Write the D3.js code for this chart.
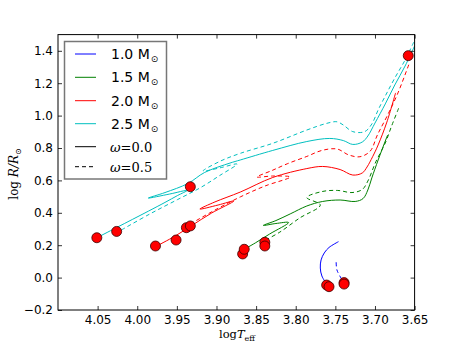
<!DOCTYPE html>
<html>
<head>
<meta charset="utf-8">
<script src="https://cdn.jsdelivr.net/npm/d3@7"></script>
<style>
body{margin:0;background:#fff}
</style>
</head>
<body>
<svg id="chart" width="461" height="346"></svg>
<script>
// tracks: [log Teff, log R/Rsun]
let m10_w00 = [[3.761,-0.040],[3.767,0.010],[3.769,0.059],[3.768,0.109],[3.764,0.152],[3.758,0.186],[3.746,0.222]];
let m10_w05 = [[3.742,-0.009],[3.748,0.047],[3.749,0.102]];

let m15_w00 = [[3.865,0.175],[3.851,0.214],[3.833,0.269],[3.809,0.340],[3.825,0.334],[3.841,0.322],[3.825,0.352],[3.807,0.393],[3.786,0.442],[3.766,0.470],[3.744,0.479],[3.725,0.470],[3.715,0.488],[3.709,0.541],[3.704,0.615],[3.696,0.726],[3.687,0.843],[3.684,0.880]];
let m15_w05 = [[3.838,0.232],[3.820,0.281],[3.795,0.368],[3.769,0.448],[3.786,0.494],[3.767,0.531],[3.747,0.538],[3.729,0.525],[3.716,0.544],[3.709,0.596],[3.699,0.714],[3.687,0.831],[3.679,0.936],[3.670,1.047]];

let m20_w00 = [[3.977,0.191],[3.952,0.257],[3.932,0.319],[3.906,0.399],[3.878,0.473],[3.898,0.448],[3.921,0.423],[3.902,0.467],[3.870,0.528],[3.829,0.618],[3.786,0.673],[3.766,0.686],[3.744,0.667],[3.728,0.633],[3.716,0.646],[3.710,0.683],[3.703,0.746],[3.696,0.819],[3.685,0.960],[3.674,1.140]];
let m20_w05 = [[3.933,0.331],[3.902,0.417],[3.870,0.498],[3.839,0.565],[3.807,0.621],[3.829,0.627],[3.849,0.621],[3.830,0.661],[3.810,0.704],[3.786,0.748],[3.767,0.785],[3.748,0.794],[3.733,0.757],[3.719,0.746],[3.706,0.781],[3.697,0.880],[3.684,1.004],[3.671,1.140],[3.657,1.319]];

let m25_w00 = [[4.051,0.246],[4.026,0.309],[3.986,0.410],[3.965,0.464],[3.949,0.507],[3.937,0.538],[3.959,0.516],[3.986,0.491],[3.965,0.525],[3.936,0.581],[3.915,0.649],[3.883,0.707],[3.870,0.726],[3.829,0.785],[3.786,0.840],[3.757,0.859],[3.740,0.846],[3.728,0.822],[3.716,0.837],[3.709,0.874],[3.700,0.954],[3.687,1.072],[3.675,1.189],[3.662,1.306],[3.650,1.430]];
let m25_w05 = [[4.020,0.294],[3.984,0.393],[3.949,0.482],[3.921,0.553],[3.896,0.630],[3.874,0.701],[3.896,0.677],[3.917,0.658],[3.896,0.717],[3.870,0.767],[3.829,0.829],[3.786,0.911],[3.761,0.952],[3.748,0.962],[3.740,0.942],[3.728,0.901],[3.713,0.901],[3.704,0.948],[3.696,1.035],[3.687,1.121],[3.675,1.232],[3.662,1.343],[3.651,1.454]];

// red dots
let dots = [[4.051,0.246],[4.026,0.285],[3.933,0.561],
            [3.977,0.195],[3.951,0.232],[3.938,0.308],[3.933,0.319],
            [3.867,0.146],[3.865,0.175],[3.839,0.218],[3.839,0.195],
            [3.761,-0.046],[3.758,-0.056],[3.739,-0.031],[3.739,-0.040],
            [3.658,1.370]];

let massNames = ["1.0", "1.5", "2.0", "2.5"];
let omegaNames = ["0.0", "0.5"];
let xTicks = [4.05, 4.00, 3.95, 3.90, 3.85, 3.80, 3.75, 3.70, 3.65];
let yTicks = [-0.2, 0.0, 0.2, 0.4, 0.6, 0.8, 1.0, 1.2, 1.4];

let colors = ["#0000ff", "#008000", "#ff0000", "#00bfbf"];
let dash = "4,3";

let svg = d3.select("#chart");
let mLeft = 58, mRight = 414.6, mTop = 34.6, mBottom = 310;

let x = d3.scaleLinear().domain([4.10, 3.65]).range([mLeft, mRight]);
let y = d3.scaleLinear().domain([-0.2, 1.5]).range([mBottom, mTop]);

svg.append("defs").append("clipPath").attr("id", "clip")
   .append("rect").attr("x", mLeft).attr("y", mTop).attr("width", mRight - mLeft).attr("height", mBottom - mTop);

let line = d3.line().x(d => x(d[0])).y(d => y(d[1])).curve(d3.curveCatmullRom.alpha(0.5));

let tracks = [
    {data: m10_w00, c: 0, dashed: false},
    {data: m10_w05, c: 0, dashed: true},
    {data: m15_w00, c: 1, dashed: false},
    {data: m15_w05, c: 1, dashed: true},
    {data: m20_w00, c: 2, dashed: false},
    {data: m20_w05, c: 2, dashed: true},
    {data: m25_w00, c: 3, dashed: false},
    {data: m25_w05, c: 3, dashed: true}
];

let plot = svg.append("g").attr("clip-path", "url(#clip)");

plot.selectAll("path.track")
    .data(tracks)
    .enter()
    .append("path")
    .attr("class", "track")
    .attr("d", t => line(t.data))
    .attr("fill", "none")
    .attr("stroke", t => colors[t.c])
    .attr("stroke-width", 1)
    .attr("stroke-dasharray", t => t.dashed ? dash : null);

plot.selectAll("circle")
    .data(dots)
    .enter()
    .append("circle")
    .attr("cx", d => x(d[0]))
    .attr("cy", d => y(d[1]))
    .attr("r", 5)
    .attr("fill", "#ff0000")
    .attr("stroke", "#3a0000")
    .attr("stroke-width", 0.8);

// axes, ticks pointing inwards on all four sides
let tickFont = "DejaVu Sans, sans-serif";
let fmt = d3.format(".2f");
let yfmt = v => d3.format(".1f")(v).replace("-", "\u2212");

let xb = svg.append("g").attr("transform", `translate(0,${mBottom})`)
    .call(d3.axisBottom(x).tickValues(xTicks).tickFormat(fmt).tickSize(-4).tickPadding(5));
let xt = svg.append("g").attr("transform", `translate(0,${mTop})`)
    .call(d3.axisTop(x).tickValues(xTicks).tickFormat("").tickSize(-4));
let yl = svg.append("g").attr("transform", `translate(${mLeft},0)`)
    .call(d3.axisLeft(y).tickValues(yTicks).tickFormat(yfmt).tickSize(-4).tickPadding(5));
let yr = svg.append("g").attr("transform", `translate(${mRight},0)`)
    .call(d3.axisRight(y).tickValues(yTicks).tickFormat("").tickSize(-4));

[xb, xt, yl, yr].forEach(g => {
    g.select(".domain").remove();
    g.selectAll("line").attr("stroke", "#000").attr("stroke-width", 0.8);
    g.selectAll("text").attr("font-family", tickFont).attr("font-size", 12).attr("fill", "#000");
});

svg.append("rect")
   .attr("x", mLeft).attr("y", mTop).attr("width", mRight - mLeft).attr("height", mBottom - mTop)
   .attr("fill", "none").attr("stroke", "#000").attr("stroke-width", 1);

// axis titles
let xlab = svg.append("text").attr("x", 237).attr("y", 338).attr("text-anchor", "middle")
    .attr("font-family", "DejaVu Serif, serif").attr("font-size", 11.5);
xlab.append("tspan").text("log");
xlab.append("tspan").attr("font-style", "italic").text("T");
xlab.append("tspan").attr("font-size", 8).attr("dy", 2.5).text("eff");

let ylab = svg.append("text").attr("transform", "translate(18,174) rotate(-90)").attr("text-anchor", "middle")
    .attr("font-family", "DejaVu Serif, serif").attr("font-size", 12);
ylab.append("tspan").text("log ");
ylab.append("tspan").attr("font-style", "italic").text("R/R");
ylab.append("tspan").attr("font-size", 8).attr("dy", 3).text("\u2299");

// legend
let lg = svg.append("g");
lg.append("rect").attr("x", 64.5).attr("y", 41.5).attr("width", 102).attr("height", 137.5)
  .attr("fill", "#fff").attr("stroke", "#777").attr("stroke-width", 1.5);

let rows = [54, 77.3, 100.7, 123.7, 146.7, 166.7];
massNames.forEach((m, i) => {
    lg.append("line").attr("x1", 75).attr("x2", 96).attr("y1", rows[i]).attr("y2", rows[i])
      .attr("stroke", colors[i]).attr("stroke-width", 1);
    let t = lg.append("text").attr("x", 111).attr("y", rows[i] + 5)
      .attr("font-family", "DejaVu Sans, sans-serif").attr("font-size", 14);
    t.append("tspan").text(m + " M");
    t.append("tspan").attr("font-size", 9).attr("dy", 3).attr("dx", 1).text("\u2299");
});
omegaNames.forEach((w, i) => {
    let r = rows[4 + i];
    lg.append("line").attr("x1", 75).attr("x2", 96).attr("y1", r).attr("y2", r)
      .attr("stroke", "#000").attr("stroke-width", 1)
      .attr("stroke-dasharray", i === 1 ? dash : null);
    let t = lg.append("text").attr("x", 110).attr("y", r + 5)
      .attr("font-family", "DejaVu Serif, serif").attr("font-size", 13);
    t.append("tspan").attr("font-style", "italic").text("\u03c9");
    t.append("tspan").text("=" + w);
});
</script>
</body>
</html>
